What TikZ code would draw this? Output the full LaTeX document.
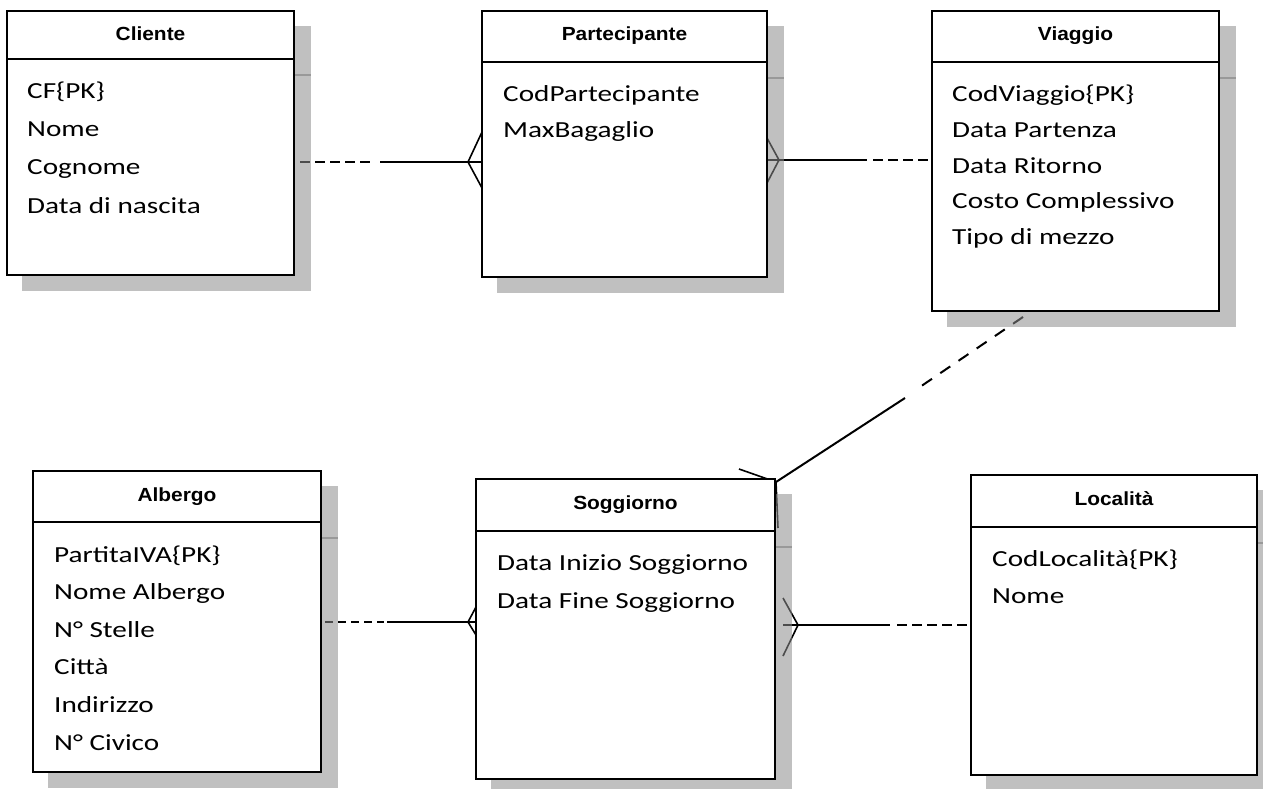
\documentclass[tikz,border=0pt]{standalone}
\usepackage{fontspec}
\usetikzlibrary{calc}
\newfontfamily\attrfont{Carlito}[FakeStretch=1.27]
\newfontfamily\titlefont{Liberation Sans}[FakeStretch=1.1]
\pgfdeclarelayer{conn}
\pgfdeclarelayer{shad}
\pgfsetlayers{conn,shad,main}
\tikzset{
  entbox/.style={draw, line width=2pt, fill=white, inner sep=0pt, outer sep=0pt},
  boxline/.style={line width=2pt},
  shadowfill/.style={fill=black!45, fill opacity=0.55},
  shadowline/.style={draw=black!40, line width=2pt},
  titletext/.style={font=\titlefont\bfseries\fontsize{19}{19}\selectfont, inner sep=0pt, anchor=base},
  attrtext/.style={font=\attrfont\fontsize{23}{23}\selectfont, inner sep=0pt, anchor=base west},
  conline/.style={line width=2pt},
  dashline/.style={line width=2pt, dash pattern=on 10pt off 5pt},
  footline/.style={line width=1.6pt},
}
% name, x1, y1, x2, y2, header y, title
\newcommand\erent[7]{%
  \node[entbox, minimum width=#4pt-#2pt, minimum height=#5pt-#3pt, anchor=north west] (#1) at (#2,#3) {};
  \draw[boxline] ($(#1.north west)+(0,{#6-#3})$) -- ($(#1.north east)+(0,{#6-#3})$);
  \node[titletext] (#1-t) at ($(#1.north)+(0,30)$) {#7};
  \begin{pgfonlayer}{shad}
    \fill[shadowfill] ($(#1.north west)+(15,15)$) rectangle ($(#1.south east)+(17,16)$);
    \draw[shadowline] ($(#1.north east)+(1,{#6-#3+16})$) -- ($(#1.north east)+(17,{#6-#3+16})$);
  \end{pgfonlayer}
}
\newcommand\erattr[4]{\node[attrtext] (#1) at (#2,#3) {#4};}
\begin{document}
\begin{tikzpicture}[x=1pt,y=-1pt]
\useasboundingbox (0,0) rectangle (1263,789);

% entities
\erent{cliente}{7}{11}{294}{275}{59}{Cliente}
\erent{partecipante}{482}{11}{767}{277}{62}{Partecipante}
\erent{viaggio}{932}{11}{1219}{311}{62}{Viaggio}
\erent{albergo}{33}{471}{321}{772}{522}{Albergo}
\erent{soggiorno}{476}{479}{775}{779}{531}{Soggiorno}
\erent{localita}{971}{475}{1257}{775}{527}{Località}

% attributes
\erattr{cl1}{27}{99}{CF\{PK\}}
\erattr{cl2}{27}{137}{Nome}
\erattr{cl3}{27}{175}{Cognome}
\erattr{cl4}{27}{213}{Data di nascita}

\erattr{pa1}{503}{102}{CodPartecipante}
\erattr{pa2}{503}{138}{MaxBagaglio}

\erattr{vi1}{952}{102}{CodViaggio\{PK\}}
\erattr{vi2}{952}{138}{Data Partenza}
\erattr{vi3}{952}{173}{Data Ritorno}
\erattr{vi4}{952}{208.5}{Costo Complessivo}
\erattr{vi5}{952}{244}{Tipo di mezzo}

\erattr{al1}{54}{562}{PartitaIVA\{PK\}}
\erattr{al2}{54}{599.6}{Nome Albergo}
\erattr{al3}{54}{637.2}{N° Stelle}
\erattr{al4}{54}{674.8}{Città}
\erattr{al5}{54}{712.4}{Indirizzo}
\erattr{al6}{54}{750}{N° Civico}

\erattr{so1}{497}{570}{Data Inizio Soggiorno}
\erattr{so2}{497}{608}{Data Fine Soggiorno}

\erattr{lo1}{992}{566}{CodLocalità\{PK\}}
\erattr{lo2}{992}{603}{Nome}

% connector coordinates
\coordinate (c1a) at (300,162);
\coordinate (c1b) at (370,162);
\coordinate (c1c) at (380,162);
\coordinate (c1d) at (482,162);
\coordinate (c1f) at (468,162);
\coordinate (c1u) at (482,132);
\coordinate (c1l) at (482,188);

\coordinate (c2a) at (767,160);
\coordinate (c2b) at (867,160);
\coordinate (c2c) at (873,160);
\coordinate (c2d) at (932,160);
\coordinate (c2f) at (779,160);
\coordinate (c2u) at (767,138);
\coordinate (c2l) at (767,183);

\coordinate (c3a) at (1023,317);
\coordinate (c3b) at (914,391);
\coordinate (c3c) at (905,398);
\coordinate (c3d) at (776,482);
\coordinate (c3u) at (739,469);
\coordinate (c3l) at (778,528);

\coordinate (c4a) at (325,622);
\coordinate (c4b) at (384,622);
\coordinate (c4c) at (387,622);
\coordinate (c4d) at (476,622);
\coordinate (c4f) at (468,622);
\coordinate (c4u) at (476,607);
\coordinate (c4l) at (476,635);

\coordinate (c5a) at (783,625);
\coordinate (c5b) at (890,625);
\coordinate (c5c) at (897,625);
\coordinate (c5d) at (971,625);
\coordinate (c5f) at (798,625);
\coordinate (c5u) at (783,598);
\coordinate (c5l) at (783,656);

\begin{pgfonlayer}{conn}
  % Cliente - Partecipante
  \draw[dashline] (c1a) -- (c1b);
  \draw[conline] (c1c) -- (c1d);
  \draw[footline] (c1u) -- (c1f) -- (c1l);
  % Partecipante - Viaggio
  \draw[conline] (c2a) -- (c2b);
  \draw[dashline] (c2c) -- (c2d);
  \draw[footline] (c2u) -- (c2f) -- (c2l);
  % Viaggio - Soggiorno
  \draw[conline, dash pattern=on 12pt off 10pt] (c3a) -- (c3b);
  \draw[conline] (c3c) -- (c3d);
  \draw[footline] (c3u) -- (c3d) -- (c3l);
  % Albergo - Soggiorno
  \draw[conline, dash pattern=on 8pt off 5pt] (c4a) -- (c4b);
  \draw[conline] (c4c) -- (c4d);
  \draw[footline] (c4u) -- (c4f) -- (c4l);
  % Soggiorno - Localita
  \draw[conline] (c5a) -- (c5b);
  \draw[dashline] (c5c) -- (c5d);
  \draw[footline] (c5u) -- (c5f) -- (c5l);
\end{pgfonlayer}
\end{tikzpicture}
\end{document}
